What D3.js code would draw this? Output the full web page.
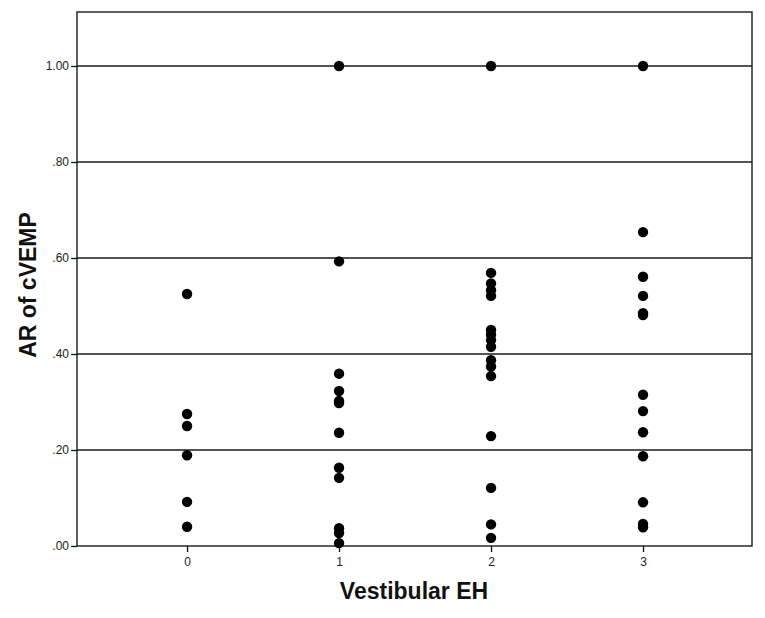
<!DOCTYPE html>
<html><head><meta charset="utf-8">
<script src="https://cdn.jsdelivr.net/npm/d3@7"></script>
<style>body{margin:0;background:#fff;} svg{display:block;}</style>
</head><body>
<svg id="chart" width="765" height="618"></svg>
<script>
const xCategories = [0, 1, 2, 3];
const yTicks = [0, 0.2, 0.4, 0.6, 0.8, 1.0];
const yTickLabels = [".00", ".20", ".40", ".60", ".80", "1.00"];
const group0 = [0.525, 0.275, 0.25, 0.189, 0.092, 0.040];
const group1 = [1.0, 0.593, 0.359, 0.323, 0.302, 0.298, 0.236, 0.163, 0.142, 0.037, 0.027, 0.006];
const group2 = [1.0, 0.569, 0.547, 0.533, 0.521, 0.45, 0.44, 0.429, 0.415, 0.387, 0.374, 0.354, 0.229, 0.121, 0.045, 0.017];
const group3 = [1.0, 0.654, 0.561, 0.521, 0.485, 0.481, 0.315, 0.281, 0.237, 0.187, 0.091, 0.046, 0.039];
const groups = [group0, group1, group2, group3];
const xTitle = "Vestibular EH";
const yTitle = "AR of cVEMP";

const svg = d3.select("#chart");
const L = 77, R = 752, T = 12, B = 546;
const x = d3.scaleLinear().domain([-0.724, 3.717]).range([L, R]);
const y = d3.scaleLinear().domain([0, 1.1125]).range([B, T]);

const points = [];
groups.forEach((g, i) => g.forEach(v => points.push({x: xCategories[i], y: v})));

// gridlines
svg.append("g").selectAll("line").data(yTicks.slice(1)).join("line")
  .attr("x1", L).attr("x2", R)
  .attr("y1", d => y(d)).attr("y2", d => y(d))
  .attr("stroke", "#1a1a1a").attr("stroke-width", 1.4);

// frame
svg.append("rect").attr("x", L).attr("y", T).attr("width", R - L).attr("height", B - T)
  .attr("fill", "none").attr("stroke", "#1a1a1a").attr("stroke-width", 1.4);

// y axis
const yAxis = d3.axisLeft(y).tickValues(yTicks)
  .tickFormat((d, i) => yTickLabels[i]).tickSize(6).tickPadding(2);
const gy = svg.append("g").attr("transform", `translate(${L},0)`).call(yAxis);
gy.select(".domain").remove();
gy.selectAll("line").attr("stroke", "#1a1a1a").attr("stroke-width", 1.4);
gy.selectAll("text").attr("font-family", "Liberation Sans, Arial, sans-serif")
  .attr("font-size", 12).attr("fill", "#222");

// x axis
const xAxis = d3.axisBottom(x).tickValues(xCategories).tickFormat(d3.format("d")).tickSize(6).tickPadding(5);
const gx = svg.append("g").attr("transform", `translate(0,${B})`).call(xAxis);
gx.select(".domain").remove();
gx.selectAll("line").attr("stroke", "#1a1a1a").attr("stroke-width", 1.4);
gx.selectAll("text").attr("font-family", "Liberation Sans, Arial, sans-serif")
  .attr("font-size", 12).attr("fill", "#222");

// points
svg.append("g").selectAll("circle").data(points).join("circle")
  .attr("cx", d => x(d.x)).attr("cy", d => y(d.y)).attr("r", 5.2)
  .attr("fill", "#000");

// titles
svg.append("text").attr("x", 414).attr("y", 599)
  .attr("text-anchor", "middle")
  .attr("font-family", "Liberation Sans, Arial, sans-serif")
  .attr("font-weight", "bold").attr("font-size", 23).attr("fill", "#111")
  .text(xTitle);
svg.append("text").attr("transform", `translate(36,${(T + B) / 2 + 6}) rotate(-90)`)
  .attr("text-anchor", "middle")
  .attr("font-family", "Liberation Sans, Arial, sans-serif")
  .attr("font-weight", "bold").attr("font-size", 23).attr("fill", "#111")
  .text(yTitle);
</script>
</body></html>
